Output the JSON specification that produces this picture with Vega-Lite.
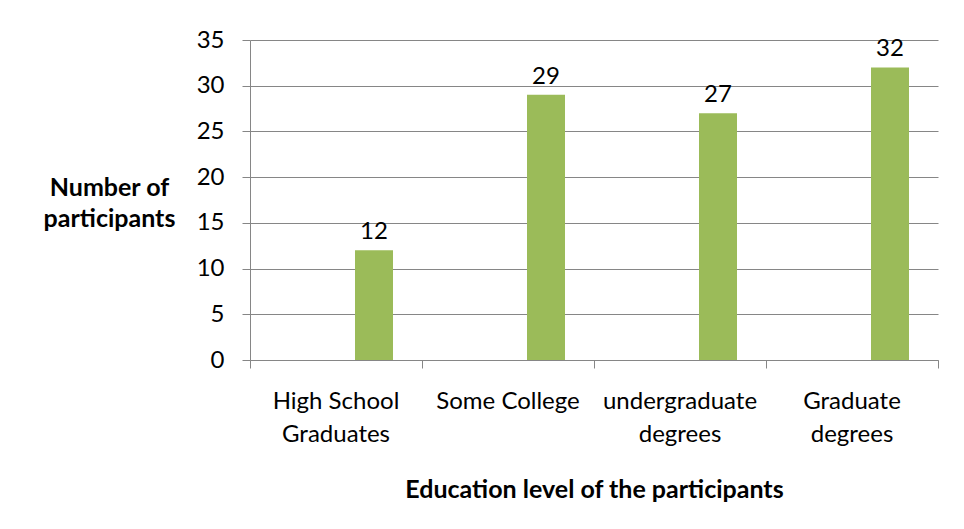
{
  "$schema": "https://vega.github.io/schema/vega-lite/v6.json",
  "width": 688,
  "height": 320,
  "autosize": {"type": "none"},
  "padding": {"left": 250, "top": 40, "right": 26, "bottom": 169},
  "background": "white",
  "data": {
    "values": [
      {"level": "High School Graduates", "series": "Series3", "participants": 12},
      {"level": "Some College", "series": "Series3", "participants": 29},
      {"level": "undergraduate degrees", "series": "Series3", "participants": 27},
      {"level": "Graduate degrees", "series": "Series3", "participants": 32}
    ]
  },
  "encoding": {
    "x": {
      "field": "level",
      "type": "nominal",
      "sort": null,
      "scale": {"paddingInner": 0, "paddingOuter": 0},
      "axis": {
        "bandPosition": 1,
        "tickExtra": true,
        "domainColor": "#868686",
        "tickColor": "#868686",
        "tickSize": 8,
        "labelAngle": 0,
        "labelOverlap": false,
        "labelFont": "Lato",
        "labelFontSize": 24,
        "labelColor": "black",
        "labelLineHeight": 33,
        "labelPadding": 21,
        "labelLimit": 300,
        "labelExpr": "datum.value == 'High School Graduates' ? ['High School', 'Graduates'] : datum.value == 'undergraduate degrees' ? ['undergraduate', 'degrees'] : datum.value == 'Graduate degrees' ? ['Graduate', 'degrees'] : datum.value",
        "title": "Education level of the participants",
        "titleFont": "Lato",
        "titleFontSize": 25,
        "titleFontWeight": "bold",
        "titleColor": "black",
        "titlePadding": 31
      }
    },
    "xOffset": {
      "field": "series",
      "type": "nominal",
      "scale": {"domain": ["Series1", "Series2", "Series3"], "paddingInner": 0, "paddingOuter": 0.763}
    },
    "y": {
      "field": "participants",
      "type": "quantitative",
      "scale": {"domain": [0, 35], "nice": false},
      "axis": {
        "values": [0, 5, 10, 15, 20, 25, 30, 35],
        "grid": true,
        "gridColor": "#868686",
        "domainColor": "#868686",
        "tickColor": "#868686",
        "tickSize": 8,
        "labelFont": "Lato",
        "labelFontSize": 24,
        "labelColor": "black",
        "labelPadding": 18,
        "title": ["Number of", "participants"],
        "titleAngle": 0,
        "titleFont": "Lato",
        "titleFontSize": 25,
        "titleFontWeight": "bold",
        "titleColor": "black",
        "titleAlign": "center",
        "titleBaseline": "middle",
        "titleLineHeight": 31,
        "titleX": -141,
        "titleY": 147
      }
    }
  },
  "layer": [
    {"mark": {"type": "bar", "color": "#9BBB59"}},
    {
      "mark": {"type": "text", "baseline": "alphabetic", "dy": -11, "font": "Lato", "fontSize": 24, "color": "black"},
      "encoding": {"text": {"field": "participants", "type": "quantitative"}}
    }
  ],
  "config": {"view": {"stroke": null}}
}
